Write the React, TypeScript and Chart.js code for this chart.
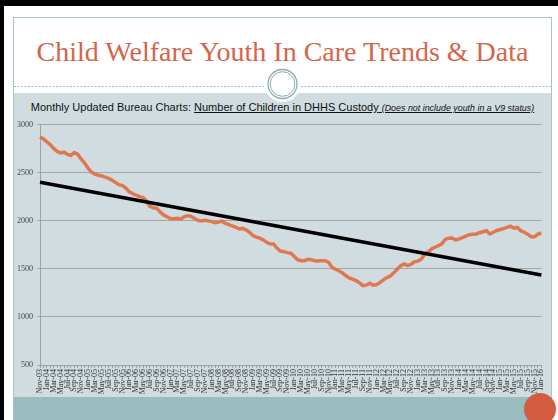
import { useEffect, useRef } from "react";
import { Chart, registerables } from "chart.js";

Chart.register(...registerables);

// ---------- data ----------
const MONTH_NAMES = ["Jan", "Feb", "Mar", "Apr", "May", "Jun", "Jul", "Aug", "Sep", "Oct", "Nov", "Dec"];
const FIRST_MONTH = 10; // Nov
const FIRST_YEAR = 2003;
const MONTH_COUNT = 147; // Nov-03 .. Jan-16

const categories: string[] = Array.from({ length: MONTH_COUNT }, (_, i) => {
  const m = (FIRST_MONTH + i) % 12;
  const y = FIRST_YEAR + Math.floor((FIRST_MONTH + i) / 12);
  return `${MONTH_NAMES[m]}-${String(y % 100).padStart(2, "0")}`;
});

const childrenInCustody: number[] = [
  2870, 2850, 2820, 2790, 2750, 2720, 2705, 2712, 2690, 2680,
  2708, 2690, 2640, 2600, 2545, 2505, 2485, 2472, 2465, 2452,
  2440, 2420, 2398, 2375, 2365, 2340, 2300, 2282, 2265, 2250,
  2240, 2205, 2150, 2135, 2128, 2090, 2060, 2042, 2020, 2020,
  2025, 2018, 2040, 2052, 2045, 2022, 2005, 1997, 2004, 1998,
  1990, 1980, 1985, 1995, 1972, 1960, 1945, 1932, 1915, 1920,
  1905, 1880, 1845, 1830, 1818, 1800, 1775, 1758, 1758, 1715,
  1685, 1678, 1668, 1662, 1630, 1595, 1584, 1584, 1598, 1595,
  1584, 1582, 1583, 1584, 1570, 1515, 1495, 1480, 1460, 1430,
  1405, 1393, 1378, 1355, 1325, 1330, 1350, 1330, 1335, 1358,
  1385, 1408, 1425, 1458, 1495, 1530, 1550, 1535, 1545, 1572,
  1580, 1600, 1650, 1675, 1705, 1724, 1740, 1760, 1805, 1818,
  1820, 1800, 1810, 1825, 1840, 1855, 1860, 1862, 1875, 1885,
  1895, 1862, 1880, 1898, 1908, 1918, 1930, 1942, 1922, 1930,
  1895, 1880, 1860, 1834, 1834, 1860, 1872,
];

const trendStart = { x: "Nov-03", y: 2400 };
const trendEnd = { x: "Jan-16", y: 1435 };

const Y_MIN = 500;
const Y_MAX = 3000;
const Y_STEP = 500;

// ---------- styles ----------
const TITLE_COLOR = "#d4654a";
const LINE_COLOR = "#e0784f";
const BG_COLOR = "#d0dce0";
const BAND_COLOR = "#9bbcbe";
const FRAME_COLOR = "#a9c2c5";

export default function App() {
  const canvasRef = useRef<HTMLCanvasElement | null>(null);

  useEffect(() => {
    document.body.style.margin = "0";
    const canvas = canvasRef.current;
    if (!canvas) return;
    const chart = new Chart(canvas, {
      type: "line",
      data: {
        labels: categories,
        datasets: [
          {
            label: "Trend",
            data: [trendStart, trendEnd] as any,
            borderColor: "#000000",
            borderWidth: 3.5,
            pointRadius: 0,
            tension: 0,
            fill: false,
          },
          {
            label: "Number of Children in DHHS Custody",
            data: childrenInCustody,
            borderColor: LINE_COLOR,
            borderWidth: 3.5,
            pointRadius: 0,
            tension: 0,
            fill: false,
          },
        ],
      },
      options: {
        animation: false,
        responsive: true,
        maintainAspectRatio: false,
        layout: { padding: { top: 9.5, right: 8, bottom: 0, left: 0 } },
        plugins: {
          legend: { display: false },
          tooltip: { enabled: false },
        },
        scales: {
          x: {
            type: "category",
            offset: false,
            afterFit: (scale: any) => {
              scale.height = 32;
            },
            grid: {
              display: true,
              drawOnChartArea: false,
              drawTicks: true,
              tickLength: 3,
              color: "#a0a0a0",
            },
            border: { display: true, color: "#a0a0a0" },
            ticks: {
              autoSkip: false,
              minRotation: 90,
              maxRotation: 90,
              padding: 1,
              color: "#333333",
              font: { family: "'Liberation Serif', serif", size: 8 },
              callback: (_v: any, index: number) => (index % 2 === 0 ? categories[index] : ""),
            },
          },
          y: {
            min: Y_MIN,
            max: Y_MAX,
            afterFit: (scale: any) => {
              scale.width = 27;
            },
            grid: {
              color: "#a5a5a5",
              lineWidth: 1,
              tickLength: 3,
            },
            border: { display: true, color: "#a0a0a0" },
            ticks: {
              stepSize: Y_STEP,
              padding: 4,
              color: "#444444",
              font: { family: "'Liberation Serif', serif", size: 8 },
              callback: (v: any) => String(v),
            },
          },
        },
      },
    });
    return () => chart.destroy();
  }, []);

  return (
    <div
      style={{
        position: "absolute",
        left: 0,
        top: 0,
        width: 558,
        height: 420,
        overflow: "hidden",
        background: "#ffffff",
      }}
    >
      {/* black screen edges */}
      <div style={{ position: "absolute", left: 0, top: 0, width: 558, height: 6, background: "#000" }} />
      <div style={{ position: "absolute", left: 0, top: 0, width: 4, height: 420, background: "#000" }} />

      {/* slide */}
      <div
        style={{
          position: "absolute",
          left: 13,
          top: 17,
          width: 539,
          height: 410,
          background: "#ffffff",
          borderLeft: `1px solid ${FRAME_COLOR}`,
          borderTop: `1px solid ${FRAME_COLOR}`,
          borderRight: `1px solid ${FRAME_COLOR}`,
          boxSizing: "border-box",
        }}
      />

      {/* title */}
      <div
        style={{
          position: "absolute",
          left: 13,
          top: 37.5,
          width: 539,
          textAlign: "center",
          fontFamily: "'Liberation Serif', serif",
          fontSize: 28,
          lineHeight: "28px",
          color: TITLE_COLOR,
          whiteSpace: "nowrap",
        }}
      >
        Child Welfare Youth In Care Trends &amp; Data
      </div>

      {/* chart background */}
      <div style={{ position: "absolute", left: 14, top: 93, width: 537, height: 304, background: BG_COLOR }} />

      {/* bottom band */}
      <div style={{ position: "absolute", left: 14, top: 397, width: 537, height: 23, background: BAND_COLOR }} />

      {/* dashed rule + ornament */}
      <svg
        width={558}
        height={420}
        style={{ position: "absolute", left: 0, top: 0, pointerEvents: "none" }}
      >
        <line x1={14} y1={86.5} x2={264} y2={86.5} stroke="#9fb8bb" strokeWidth={1} strokeDasharray="2 1.5" />
        <line x1={301} y1={86.5} x2={551} y2={86.5} stroke="#9fb8bb" strokeWidth={1} strokeDasharray="2 1.5" />
        <circle cx={282.5} cy={84} r={18} fill="#ffffff" />
        <circle cx={282.5} cy={84} r={14.5} fill="#ffffff" stroke="#8dabaf" strokeWidth={1.3} />
        <circle cx={282.5} cy={84} r={12.3} fill="none" stroke="#8dabaf" strokeWidth={1} />
        <circle cx={540} cy={409} r={16} fill="#d35c40" />
      </svg>

      {/* subtitle */}
      <div
        style={{
          position: "absolute",
          left: 13,
          top: 100,
          width: 539,
          textAlign: "center",
          fontFamily: "'Liberation Sans', Arial, sans-serif",
          fontSize: 11,
          lineHeight: "14px",
          color: "#111",
          whiteSpace: "nowrap",
        }}
      >
        Monthly Updated Bureau Charts:{" "}
        <span style={{ textDecoration: "underline" }}>
          Number of Children in DHHS Custody{" "}
          <i style={{ fontSize: 8.9 }}>(Does not include youth in a V9 status)</i>
        </span>
      </div>

      {/* chart */}
      <div style={{ position: "absolute", left: 13, top: 115, width: 539, height: 282 }}>
        <canvas ref={canvasRef} />
      </div>
    </div>
  );
}
